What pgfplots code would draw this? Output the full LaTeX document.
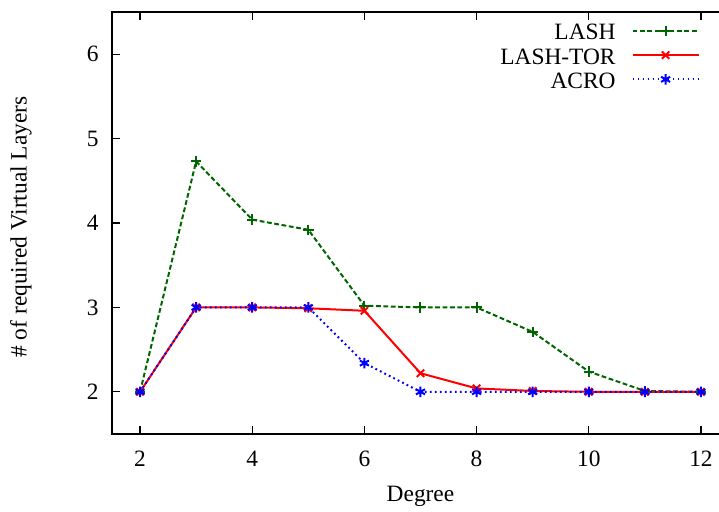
\documentclass[border=0pt]{standalone}
\usepackage{pgfplots}
\pgfplotsset{compat=1.18}
\usepackage{fontspec}
\setmainfont{Liberation Serif}

\definecolor{lashgreen}{RGB}{0,100,0}
\newcommand{\plotfont}{\fontsize{11.7}{14}\selectfont}

\begin{document}
\plotfont
\begin{tikzpicture}
\begin{axis}[
  at={(0,0)}, anchor=south west,
  scale only axis,
  width=308.5pt, height=211pt,
  xmin=1.5, xmax=12.5,
  ymin=1.5, ymax=6.5,
  xtick={2,4,...,12},
  ytick={2,3,4,5,6},
  tick align=inside,
  major tick length=4pt,
  minor tick num=0,
  axis line style={line width=0.8pt},
  every tick/.style={black, line width=0.6pt},
  /pgf/number format/assume math mode=true,
  tick label style={font=\plotfont},
  xticklabel style={anchor=base, inner sep=0pt, yshift=-16.2pt},
  yticklabel style={anchor=east, inner sep=0pt, xshift=-6.5pt},
  xlabel={Degree},
  ylabel={\# of required Virtual Layers},
  label style={font=\plotfont},
  xlabel style={at={(axis description cs:0.5,-0.159)}, anchor=base, inner sep=0pt},
  ylabel style={at={(axis description cs:-0.1475,0.4905)}, anchor=center, inner sep=0pt},
  legend style={at={(rel axis cs:0.953,0.981)}, anchor=north east,
    draw=none, fill=none, font=\plotfont,
    row sep=-1.4pt, inner sep=0pt},
  legend cell align=right,
  legend plot pos=right,
  legend image code/.code={
    \path (0pt,1.5pt);
    \draw[mark repeat=2, mark phase=2, #1]
      plot coordinates {(6pt,1.5pt) (22.5pt,1.5pt) (39pt,1.5pt)};
  },
]
\addplot[color=lashgreen, line width=1pt, dash pattern=on 2.4pt off 1.3pt,
  mark=+, mark size=2.6pt, mark options={solid, line width=1pt}]
  coordinates {
  (2,2.00) (3,4.73) (4,4.04) (5,3.92) (6,3.02) (7,3.00)
  (8,3.00) (9,2.71) (10,2.24) (11,2.01) (12,2.00)
};
\addlegendentry{LASH}
\addplot[color=red, line width=1pt,
  mark=x, mark size=2.6pt, mark options={solid, line width=1pt}]
  coordinates {
  (2,2.00) (3,3.00) (4,3.00) (5,2.99) (6,2.96) (7,2.22)
  (8,2.04) (9,2.01) (10,2.00) (11,2.00) (12,2.00)
};
\addlegendentry{LASH-TOR}
\addplot[color=blue, line width=1pt, dash pattern=on 0.9pt off 1.6pt,
  mark=asterisk, mark size=2.6pt, mark options={solid, line width=1pt}]
  coordinates {
  (2,2.00) (3,3.00) (4,3.00) (5,3.00) (6,2.34) (7,2.00)
  (8,2.00) (9,2.00) (10,2.00) (11,2.00) (12,2.00)
};
\addlegendentry{ACRO}
\end{axis}
\pgfresetboundingbox
\path[use as bounding box] (-56pt,-38.5pt) rectangle (303.5pt,217pt);
\end{tikzpicture}
\end{document}
